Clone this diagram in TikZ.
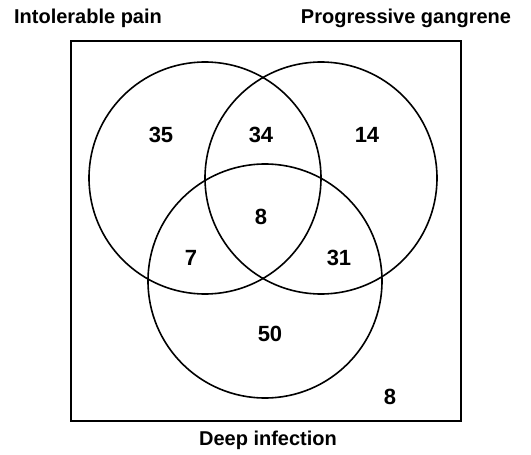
\documentclass[tikz,border=0pt]{standalone}
\usepackage{fontspec}
\setmainfont{Liberation Sans}
\begin{document}
\begin{tikzpicture}[x=1pt,y=-1pt,
  setcircle/.style={line width=1.6pt},
  frame/.style={line width=2.2pt},
  lbl/.style={font=\fontsize{20}{24}\selectfont\bfseries, inner sep=0pt},
  num/.style={font=\fontsize{22}{26}\selectfont\bfseries, inner sep=0pt}]
\useasboundingbox (0,0) rectangle (531,455);
\draw[frame] (71,41) rectangle (461,421);
\draw[setcircle] (205,178) circle (116);
\draw[setcircle] (321,178) circle (116);
\draw[setcircle] (265,281) circle (117);
\node[lbl] (pain) at (88,18) {Intolerable pain};
\node[lbl] (gang) at (406,18) {Progressive gangrene};
\node[lbl] (deep) at (268,440) {Deep infection};
\node[num] (n35) at (161,135) {35};
\node[num] (n34) at (261,135) {34};
\node[num] (n14) at (367,135) {14};
\node[num] (n8a) at (261,217) {8};
\node[num] (n7) at (191,258) {7};
\node[num] (n31) at (339,258) {31};
\node[num] (n50) at (270,334) {50};
\node[num] (n8b) at (390,397) {8};
\end{tikzpicture}
\end{document}
